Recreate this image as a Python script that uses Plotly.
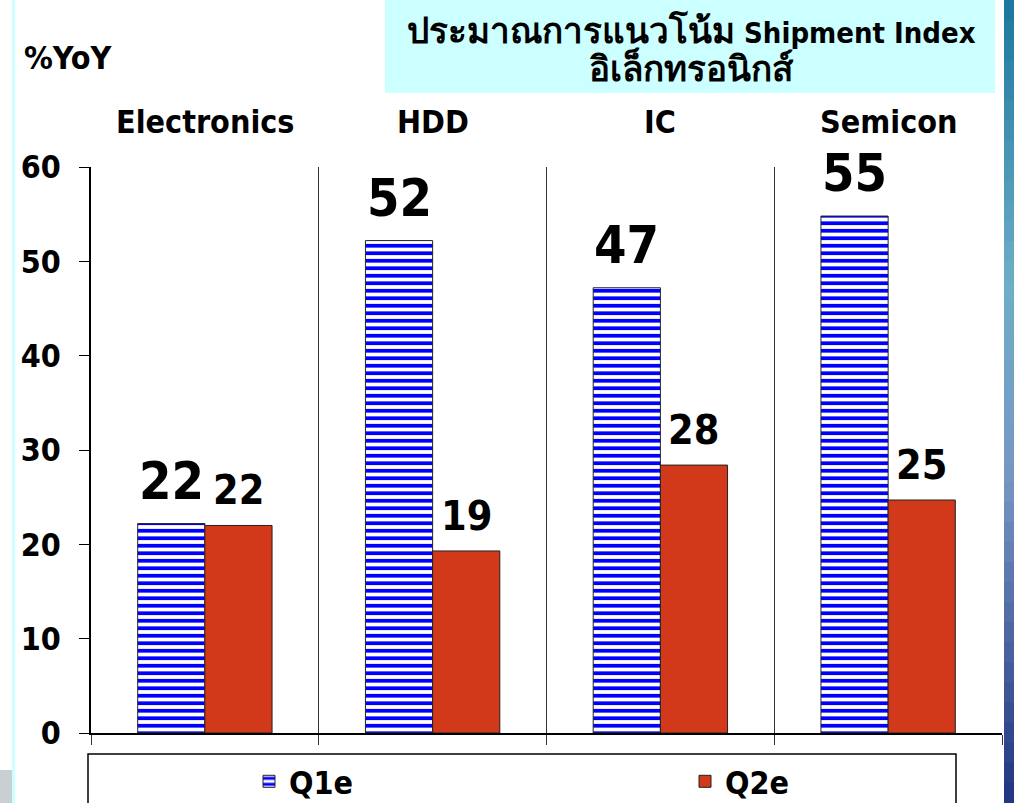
import plotly.graph_objects as go

categories = ["Electronics", "HDD", "IC", "Semicon"]
q1e = [22.2, 52.2, 47.2, 54.8]
q2e = [22.0, 19.3, 28.4, 24.7]
series_names = ["Q1e", "Q2e"]
y_ticks = [0, 10, 20, 30, 40, 50, 60]
title_thai_1 = "ประมาณการแนวโน้ม"
title_latin_1 = "Shipment Index"
title_thai_2 = "อิเล็กทรอนิกส์"
y_unit = "%YoY"

W, H = 1014, 803
L, R, T, B = 91, 12, 167, 70
PW, PH = W - L - R, H - T - B

def px_x(p):
    return (p - L) / PW

def px_y(p):
    return (H - B - p) / PH

FONT = "DejaVu Sans Condensed, DejaVu Sans, sans-serif"
BLUE = "#0000ff"
RED = "#d2381a"
BARGAP = 0.41

fig = go.Figure()
fig.add_trace(go.Bar(
    name=series_names[0], x=categories, y=q1e, legend="legend",
    marker=dict(color="white",
                pattern=dict(shape="-", fgcolor=BLUE, bgcolor="white", size=7.5, solidity=0.5,
                             fillmode="replace", fgopacity=1),
                line=dict(color="#222222", width=1)),
))
fig.add_trace(go.Bar(
    name=series_names[1], x=categories, y=q2e, legend="legend2",
    marker=dict(color=RED, line=dict(color="#222222", width=1)),
))

cat_w = PW / len(categories)
bar_w = cat_w * (1 - BARGAP) / 2
annotations = []
for i, c in enumerate(categories):
    annotations.append(dict(x=c, y=q1e[i], xref="x", yref="y", text=f"<b>{q1e[i]:.0f}</b>",
                            showarrow=False, yanchor="bottom", xanchor="center",
                            xshift=-bar_w / 2, yshift=11,
                            font=dict(family=FONT, size=52, color="black")))
    annotations.append(dict(x=c, y=q2e[i], xref="x", yref="y", text=f"<b>{q2e[i]:.0f}</b>",
                            showarrow=False, yanchor="bottom", xanchor="center",
                            xshift=bar_w / 2, yshift=9,
                            font=dict(family=FONT, size=41, color="black")))
    annotations.append(dict(x=c, y=px_y(122), xref="x", yref="paper", text=f"<b>{c}</b>",
                            showarrow=False, yanchor="middle", xanchor="center",
                            font=dict(family=FONT, size=32, color="black")))

annotations.append(dict(x=px_x(22), y=px_y(58), xref="paper", yref="paper", text=f"<b>{y_unit}</b>",
                        showarrow=False, xanchor="left", yanchor="middle",
                        font=dict(family=FONT, size=32, color="black")))
title_text = (f"<b><span style='font-size:35px'>{title_thai_1}</span> {title_latin_1}</b><br>"
              f"<b><span style='font-size:35px'>{title_thai_2}</span></b>")
annotations.append(dict(x=px_x(691), y=px_y(49), xref="paper", yref="paper",
                        text=title_text,
                        showarrow=False, xanchor="center", yanchor="middle", align="center",
                        font=dict(family=FONT, size=29, color="black")))

shapes = [
    dict(type="rect", xref="paper", yref="paper", x0=px_x(385), x1=px_x(995), y0=px_y(93), y1=px_y(-2),
         fillcolor="#ccffff", line=dict(width=0), layer="below"),
    dict(type="rect", xref="paper", yref="paper", x0=px_x(12), x1=px_x(15), y0=px_y(805), y1=px_y(-2),
         fillcolor="#ccffff", line=dict(width=0), layer="below"),
    dict(type="rect", xref="paper", yref="paper", x0=px_x(88), x1=px_x(956), y0=px_y(815), y1=px_y(754),
         fillcolor="rgba(0,0,0,0)", line=dict(color="black", width=1.5)),
]
stops = [(0.0, (30, 120, 160)), (0.35, (110, 175, 200)), (0.6, (120, 150, 195)), (1.0, (35, 55, 130))]
n = 40
for k in range(n):
    t = k / (n - 1)
    for j in range(len(stops) - 1):
        if stops[j][0] <= t <= stops[j + 1][0]:
            a, ca = stops[j]; b, cb = stops[j + 1]
            f = (t - a) / (b - a)
            col = tuple(int(ca[m] + (cb[m] - ca[m]) * f) for m in range(3))
            break
    y0p = k * H / n
    shapes.append(dict(type="rect", xref="paper", yref="paper", x0=px_x(1004), x1=px_x(1015),
                       y0=px_y(y0p + H / n + 1), y1=px_y(y0p), fillcolor="rgb(%d,%d,%d)" % col,
                       line=dict(width=0), layer="below"))
shapes.append(dict(type="rect", xref="paper", yref="paper", x0=px_x(-1), x1=px_x(12), y0=px_y(805), y1=px_y(770),
                   fillcolor="#c8d0d4", line=dict(width=0), layer="below"))

legend_common = dict(orientation="h", xanchor="left", yanchor="top", bgcolor="rgba(0,0,0,0)",
                     font=dict(family=FONT, size=32, color="black", weight="bold"))

fig.update_layout(
    width=W, height=H,
    margin=dict(l=L, r=R, t=T, b=B, autoexpand=False),
    paper_bgcolor="white", plot_bgcolor="white",
    barmode="group", bargap=BARGAP, bargroupgap=0,
    font=dict(family=FONT, color="black"),
    showlegend=True,
    legend=dict(x=px_x(249), y=px_y(754), **legend_common),
    legend2=dict(x=px_x(685), y=px_y(754), **legend_common),
    annotations=annotations,
    shapes=shapes,
    xaxis=dict(type="category", tickson="boundaries", ticks="outside", ticklen=10, tickcolor="#333333",
               showgrid=True, gridcolor="#333333", gridwidth=1, showticklabels=False,
               showline=True, linecolor="black", linewidth=1.5, zeroline=False),
    yaxis=dict(range=[0, 60], tickvals=y_ticks, ticks="outside", ticklen=10, tickcolor="black",
               showline=True, linecolor="black", linewidth=1.5, showgrid=False, zeroline=False,
               tickfont=dict(family=FONT, size=32, color="black", weight="bold"), ticklabelstandoff=12),
)

fig.write_html("out.html", config={"displayModeBar": False},
               post_script="document.body.style.margin='0';document.body.style.overflow='hidden';")
